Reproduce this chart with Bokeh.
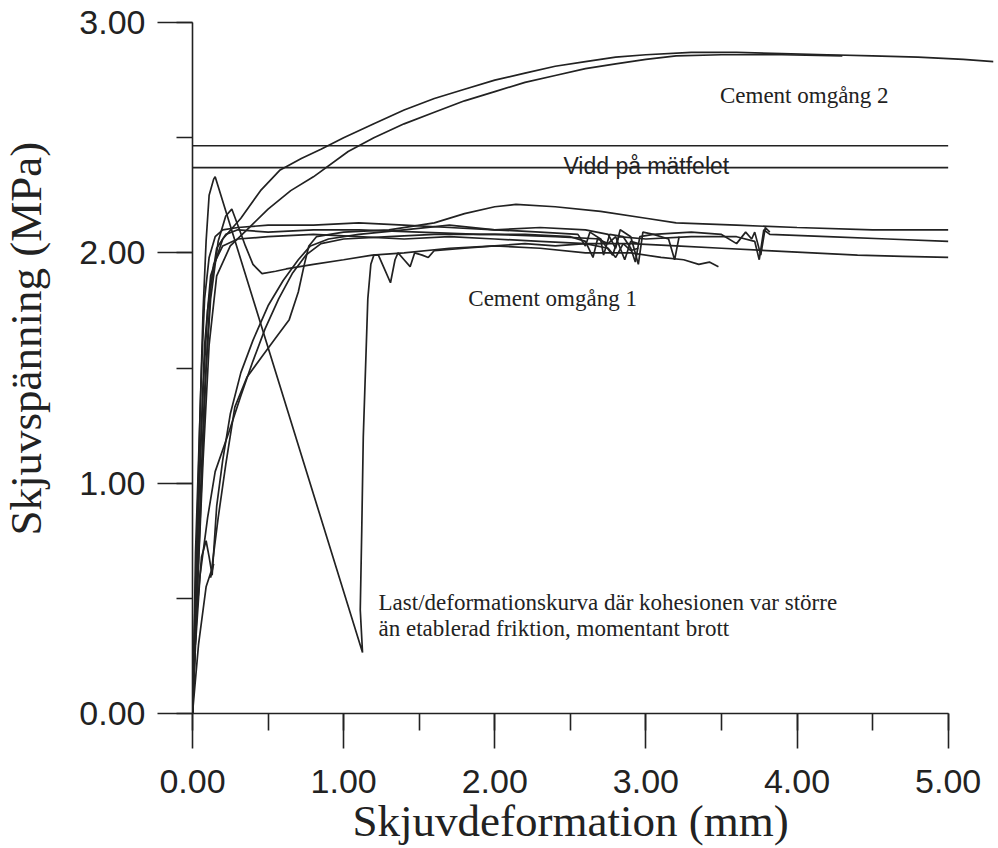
import math
from bokeh.plotting import figure
from bokeh.models import Label, SingleIntervalTicker, NumeralTickFormatter, Range1d, Title
from bokeh.embed import file_html
from bokeh.resources import INLINE

# ---- axis ticks ----
x_ticks = [0, 1, 2, 3, 4, 5]
y_ticks = [0, 1, 2, 3]

# ---- "Vidd på mätfelet" band ----
band_upper = 2.465
band_lower = 2.37
band_x = [0.0, 5.0]

# ---- Cement omgång 2 ----
o2a_x = [0, 0.02, 0.05, 0.08, 0.12, 0.2, 0.32, 0.45, 0.58, 0.72, 0.85, 1.0, 1.2, 1.4, 1.6, 1.8, 2.0, 2.2, 2.4, 2.6, 2.8, 3.0, 3.3, 3.6, 3.9, 4.2, 4.5, 4.8, 5.1, 5.3]
o2a_y = [0, 0.5, 1.1, 1.6, 1.9, 2.06, 2.15, 2.27, 2.36, 2.41, 2.45, 2.5, 2.56, 2.62, 2.67, 2.71, 2.75, 2.78, 2.81, 2.83, 2.85, 2.86, 2.87, 2.87, 2.865, 2.86, 2.855, 2.85, 2.84, 2.83]
o2b_x = [0, 0.03, 0.07, 0.11, 0.16, 0.25, 0.36, 0.5, 0.65, 0.8, 1.03, 1.2, 1.4, 1.6, 1.8, 2.0, 2.2, 2.4, 2.6, 2.8, 3.0, 3.2, 3.5, 3.9, 4.3]
o2b_y = [0, 0.5, 1.1, 1.6, 1.9, 2.03, 2.1, 2.19, 2.27, 2.33, 2.44, 2.5, 2.56, 2.61, 2.66, 2.7, 2.74, 2.77, 2.8, 2.82, 2.84, 2.855, 2.86, 2.86, 2.855]

# ---- Cement omgång 1 ----
brk_x = [0, 0.01, 0.03, 0.05, 0.07, 0.09, 0.11, 0.14, 0.15, 1.125, 1.11, 1.12, 1.13, 1.14, 1.15, 1.16, 1.18, 1.2, 1.23, 1.27, 1.31, 1.34, 1.36, 1.4, 1.44, 1.47, 1.52, 1.56, 1.6, 1.8, 2.0, 2.2, 2.4, 2.6, 2.75, 2.8, 2.85, 2.9, 2.95]
brk_y = [0, 0.3, 0.8, 1.3, 1.75, 2.05, 2.25, 2.32, 2.33, 0.265, 0.45, 0.8, 1.2, 1.4, 1.6, 1.8, 1.95, 1.99, 1.99, 1.93, 1.87, 1.97, 2.0, 1.97, 1.94, 2.0, 1.99, 1.98, 2.01, 2.02, 2.03, 2.04, 2.03, 2.04, 2.02, 1.98, 2.04, 2.01, 2.02]

dip_x = [0, 0.02, 0.05, 0.08, 0.12, 0.17, 0.22, 0.26, 0.3, 0.35, 0.4, 0.46, 0.55, 0.62, 0.8, 1.0, 1.19, 1.4, 1.7, 2.0, 2.3, 2.6, 2.9, 3.1, 3.25, 3.35, 3.42, 3.48]
dip_y = [0, 0.4, 0.9, 1.4, 1.8, 2.05, 2.16, 2.19, 2.12, 2.03, 1.95, 1.91, 1.92, 1.93, 1.95, 1.97, 1.99, 2.0, 2.02, 2.03, 2.02, 2.0, 2.0, 1.98, 1.97, 1.95, 1.96, 1.94]

s1_x = [0, 0.01, 0.03, 0.06, 0.09, 0.11, 0.13, 0.14, 0.16, 0.2, 0.25, 0.32, 0.4, 0.5, 0.6, 0.7, 0.78, 0.9, 1.1, 1.4, 1.7, 2.0, 2.3, 2.6, 2.75, 2.8, 2.83, 2.9, 2.95, 2.98, 3.05, 3.15, 3.19, 3.22]
s1_y = [0, 0.2, 0.45, 0.68, 0.75, 0.68, 0.6, 0.7, 0.9, 1.1, 1.3, 1.48, 1.62, 1.77, 1.88, 1.97, 2.03, 2.06, 2.08, 2.1, 2.12, 2.1, 2.11, 2.1, 2.08, 2.02, 2.1, 2.07, 1.95, 2.09, 2.08, 2.06, 1.97, 2.07]

s2_x = [0, 0.02, 0.05, 0.1, 0.15, 0.24, 0.32, 0.4, 0.48, 0.57, 0.66, 0.75, 0.85, 1.0, 1.3, 1.6, 2.0, 2.4, 2.7, 2.78, 2.82, 3.0, 3.3, 3.6, 3.72, 3.75, 3.78, 3.82, 4.2, 4.6, 5.0]
s2_y = [0, 0.3, 0.6, 0.85, 1.05, 1.22, 1.38, 1.53, 1.67, 1.8, 1.91, 1.99, 2.04, 2.06, 2.07, 2.08, 2.08, 2.07, 2.06, 1.99, 2.07, 2.06, 2.07, 2.07, 2.05, 1.97, 2.1, 2.08, 2.07, 2.06, 2.05]

s3_x = [0, 0.04, 0.09, 0.14, 0.12, 0.17, 0.22, 0.28, 0.36, 0.46, 0.55, 0.64, 0.7, 0.74, 0.77, 0.82, 1.0, 1.3, 1.6, 1.8, 2.0, 2.14, 2.4, 2.7, 3.0, 3.2, 3.6, 4.0, 4.5, 5.0]
s3_y = [0, 0.3, 0.55, 0.65, 0.59, 0.85, 1.08, 1.33, 1.46, 1.55, 1.63, 1.71, 1.83, 1.95, 2.03, 2.07, 2.09, 2.1, 2.13, 2.17, 2.2, 2.21, 2.2, 2.18, 2.15, 2.13, 2.12, 2.11, 2.1, 2.1]

t1_x = [0, 0.01, 0.02, 0.04, 0.06, 0.08, 0.11, 0.15, 0.2, 0.3, 0.5, 0.8, 1.1, 1.4, 1.7, 2.0, 2.3, 2.55, 2.6, 2.63, 2.7, 2.72, 2.76, 2.85, 2.9, 2.93, 2.96, 3.05, 3.3, 3.5, 3.6, 3.66, 3.7, 3.72, 3.76, 3.79, 3.82]
t1_y = [0, 0.3, 0.7, 1.1, 1.5, 1.8, 1.98, 2.07, 2.1, 2.11, 2.12, 2.12, 2.13, 2.12, 2.11, 2.1, 2.09, 2.08, 2.03, 2.09, 2.06, 1.99, 2.08, 2.07, 2.02, 1.96, 2.07, 2.08, 2.09, 2.08, 2.04, 2.09, 2.06, 2.09, 1.99, 2.11, 2.09]

t2_x = [0, 0.02, 0.04, 0.07, 0.1, 0.14, 0.2, 0.3, 0.5, 0.8, 1.1, 1.4, 1.7, 2.0, 2.3, 2.6, 2.9, 3.2, 3.5, 3.8, 4.1, 4.4, 4.7, 5.0]
t2_y = [0, 0.4, 0.9, 1.4, 1.75, 1.95, 2.03, 2.06, 2.07, 2.08, 2.07, 2.06, 2.07, 2.06, 2.05, 2.04, 2.04, 2.03, 2.02, 2.01, 2.0, 1.99, 1.985, 1.98]

t3_x = [0, 0.03, 0.06, 0.09, 0.12, 0.16, 0.22, 0.3, 0.5, 0.8, 1.1, 1.5, 1.9, 2.2, 2.5, 2.6, 2.65, 2.68, 2.75, 2.8, 2.86, 2.9, 2.95]
t3_y = [0, 0.5, 1.0, 1.5, 1.85, 2.02, 2.08, 2.1, 2.09, 2.1, 2.1, 2.09, 2.08, 2.08, 2.07, 2.05, 1.98, 2.06, 2.04, 2.07, 1.97, 2.05, 2.04]

curves = [
    (o2a_x, o2a_y), (o2b_x, o2b_y),
    (brk_x, brk_y), (dip_x, dip_y),
    (s1_x, s1_y), (s2_x, s2_y), (s3_x, s3_y),
    (t1_x, t1_y), (t2_x, t2_y), (t3_x, t3_y),
]

INK = "#222222"
SERIF = "Liberation Serif"
SANS = "Liberation Sans"

p = figure(width=998, height=848, output_backend="svg", toolbar_location=None,
           x_range=Range1d(0, 5.3), y_range=Range1d(0, 3.0),
           min_border_left=192, min_border_right=5, min_border_top=22, min_border_bottom=135)
p.outline_line_color = None
p.xgrid.visible = False
p.ygrid.visible = False
p.background_fill_color = "white"
p.border_fill_color = "white"

for xs, ys in curves:
    p.line(xs, ys, line_color=INK, line_width=1.7)

p.line(band_x, [band_upper, band_upper], line_color=INK, line_width=1.6)
p.line(band_x, [band_lower, band_lower], line_color=INK, line_width=1.6)

# axes
xa = p.xaxis[0]
xa.ticker = SingleIntervalTicker(interval=1, num_minor_ticks=2)
xa.formatter = NumeralTickFormatter(format="0.00")
xa.bounds = (0, 5)
xa.axis_line_color = INK
xa.axis_line_width = 1.6
xa.major_tick_line_color = INK
xa.major_tick_line_width = 1.6
xa.minor_tick_line_color = INK
xa.minor_tick_line_width = 1.6
xa.major_tick_in = 0
xa.major_tick_out = 35
xa.minor_tick_in = 0
xa.minor_tick_out = 17
xa.major_label_text_font = SANS
xa.major_label_text_font_size = "34px"
xa.major_label_text_color = INK
xa.major_label_standoff = 21

ya = p.yaxis[0]
ya.ticker = SingleIntervalTicker(interval=1, num_minor_ticks=2)
ya.formatter = NumeralTickFormatter(format="0.00")
ya.axis_line_color = INK
ya.axis_line_width = 1.6
ya.major_tick_line_color = INK
ya.major_tick_line_width = 1.6
ya.minor_tick_line_color = INK
ya.minor_tick_line_width = 1.6
ya.major_tick_in = 0
ya.major_tick_out = 35
ya.minor_tick_in = 0
ya.minor_tick_out = 16
ya.major_label_text_font = SANS
ya.major_label_text_font_size = "34px"
ya.major_label_text_color = INK
ya.major_label_standoff = 12
# blank axis label only to reserve a little room between tick labels and the title
ya.axis_label = " "
ya.axis_label_text_font_size = "10px"
ya.axis_label_standoff = 10

# axis titles as side titles (offset positions them along the axis)
p.add_layout(Title(text="Skjuvdeformation (mm)", text_font=SERIF, text_font_size="45px",
                   text_font_style="normal", text_color=INK, align="left", offset=160,
                   vertical_align="top", standoff=0), "below")
p.add_layout(Title(text="Skjuvspänning (MPa)", text_font=SERIF, text_font_size="45px",
                   text_font_style="normal", text_color=INK, align="left", offset=178,
                   vertical_align="top", standoff=0), "left")

# annotations
p.add_layout(Label(x=3.49, y=2.683, text="Cement omgång 2", text_font=SERIF, text_font_size="23px",
                   text_color=INK, text_align="left", text_baseline="middle"))
p.add_layout(Label(x=1.825, y=1.802, text="Cement omgång 1", text_font=SERIF, text_font_size="23px",
                   text_color=INK, text_align="left", text_baseline="middle"))
p.add_layout(Label(x=2.454, y=2.378, text="Vidd på mätfelet", text_font=SANS, text_font_size="23px",
                   text_color=INK, text_align="left", text_baseline="alphabetic"))
p.add_layout(Label(x=1.231, y=0.482, text="Last/deformationskurva där kohesionen var större",
                   text_font=SERIF, text_font_size="23px", text_color=INK,
                   text_align="left", text_baseline="middle"))
p.add_layout(Label(x=1.231, y=0.369, text="än etablerad friktion, momentant brott",
                   text_font=SERIF, text_font_size="23px", text_color=INK,
                   text_align="left", text_baseline="middle"))

open("out.html", "w").write(file_html(p, INLINE))
